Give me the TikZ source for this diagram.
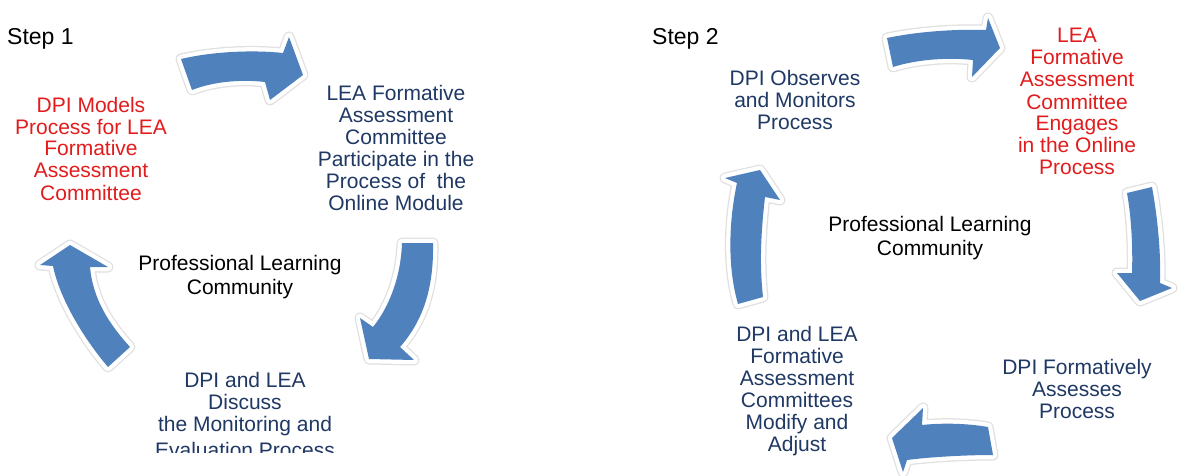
\documentclass[tikz,border=0pt]{standalone}
\usepackage{fontspec}
\setmainfont{Liberation Sans}
\definecolor{arrowblue}{RGB}{79,129,189}
\definecolor{navytext}{RGB}{31,56,100}
\definecolor{redtext}{RGB}{226,28,28}
\begin{document}
\begin{tikzpicture}[x=1pt,y=-1pt,
  lbl/.style={align=center, inner sep=0pt, anchor=base, font=\fontsize{21}{22}\selectfont},
  bluelbl/.style={lbl, text=navytext},
  redlbl/.style={lbl, text=redtext},
  blacklbl/.style={lbl, text=black},
  steplbl/.style={inner sep=0pt, anchor=base west, font=\fontsize{23}{26}\selectfont},
  cyclearrow/.style={fill=arrowblue, line join=round,
     preaction={draw=black!12, line width=11pt, line join=round},
     preaction={draw=white, line width=8.5pt, line join=round}}
]
\path[use as bounding box, fill=white] (0,0) rectangle (1178,476);

% ---------- Step 1 ----------
\node[steplbl] (step1) at (7,45) {Step 1};
\node[redlbl] (s1a) at (91,200) {DPI Models\\Process for LEA\\Formative\\Assessment\\Committee};
\node[bluelbl] (s1b) at (396,210) {LEA Formative\\Assessment\\Committee\\Participate in the\\Process of \ the\\Online Module};
\node[blacklbl] (s1c) at (240,294) {Professional Learning\\[2pt]Community};
\begin{scope}
  \clip (0,0) rectangle (640,452);
  \node[bluelbl] (s1d) at (245,457) {DPI and LEA\\Discuss\\the Monitoring and\\[4pt]Evaluation Process};
\end{scope}

% top arrow
\path[cyclearrow] (181,59) .. controls (215,51) and (255,50) .. (283,53) -- (289,37) -- (303,75)
  -- (270,100) -- (265,82) .. controls (240,79) and (212,82) .. (192,90) -- cycle;
% right (down) arrow
\path[cyclearrow] (402,243) -- (433,243) .. controls (434,290) and (422,322) .. (400,347)
  -- (414,360) -- (369,359) -- (360,318) -- (373,327) .. controls (390,306) and (401,275) .. (402,243) -- cycle;
% left (up) arrow
\path[cyclearrow] (70,245) -- (108,267) -- (90,267) .. controls (93,300) and (110,325) .. (130,347)
  -- (108,367) .. controls (85,340) and (60,300) .. (53,266) -- (40,265) -- cycle;

% ---------- Step 2 ----------
\node[steplbl] (step2) at (652,45) {Step 2};
\node[bluelbl] (s2a) at (795,130) {DPI Observes\\and Monitors\\Process};
\node[redlbl] (s2b) at (1077,175) {LEA\\Formative\\Assessment\\Committee\\Engages\\in the Online\\Process};
\node[blacklbl] (s2c) at (930,255) {Professional Learning\\[2pt]Community};
\node[bluelbl] (s2d) at (797,451) {DPI and LEA\\Formative\\Assessment\\Committees\\Modify and\\Adjust};
\node[bluelbl] (s2e) at (1077,418) {DPI Formatively\\Assesses\\Process};

% top arrow
\path[cyclearrow] (887,38) .. controls (920,31) and (960,29) .. (986,30) -- (988,18) -- (1000,48)
  -- (972,77) -- (973,60) .. controls (945,57) and (915,60) .. (893,67) -- cycle;
% right (down) arrow
\path[cyclearrow] (1127,193) -- (1152,187) .. controls (1158,220) and (1161,255) .. (1160,283)
  -- (1172,288) -- (1140,301) -- (1117,273) -- (1132,273) .. controls (1133,245) and (1131,215) .. (1127,193) -- cycle;
% bottom (left) arrow
\path[cyclearrow] (988,427) .. controls (965,423) and (940,423) .. (922,425) -- (923,408) -- (892,438)
  -- (903,472) -- (907,460) .. controls (930,457) and (965,455) .. (993,455) -- cycle;
% left (up) arrow
\path[cyclearrow] (760,170) -- (780,200) -- (765,197) .. controls (760,240) and (760,270) .. (763,297)
  -- (738,304) .. controls (728,270) and (728,225) .. (737,183) -- (725,178) -- cycle;
\end{tikzpicture}
\end{document}
